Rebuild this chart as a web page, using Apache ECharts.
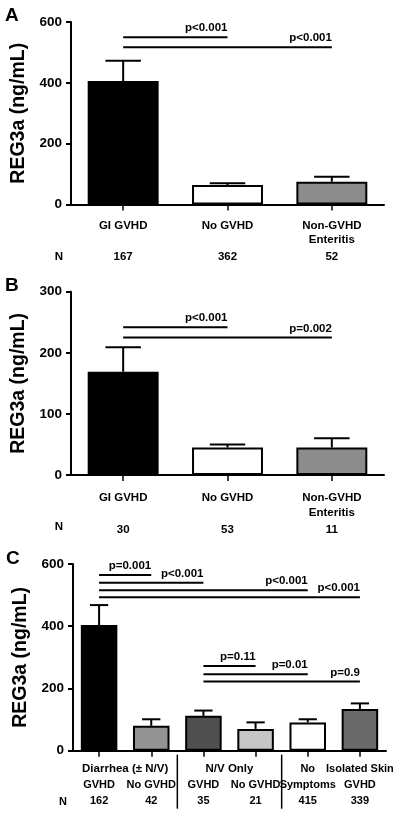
<!DOCTYPE html>
<html><head><meta charset="utf-8">
<script src="https://cdn.jsdelivr.net/npm/echarts@6/dist/echarts.min.js"></script>
<style>html,body{margin:0;padding:0;background:#fff}#c{width:400px;height:816px}</style>
</head><body><div id="c"></div><script>
// ---------- DATA ----------
const catsA = ['GI GVHD', 'No GVHD', 'Non-GVHD\nEnteritis'];
const meanA = [406, 64, 75];
const upperA = [473, 70, 91];
const nA = ['167', '362', '52'];
const sigA = [[0, 1, 550, 'p<0.001'], [0, 2, 517, 'p<0.001']];
const ticksA = [0, 200, 400, 600];

const catsB = ['GI GVHD', 'No GVHD', 'Non-GVHD\nEnteritis'];
const meanB = [169, 45, 45];
const upperB = [209, 50, 60];
const nB = ['30', '53', '11'];
const sigB = [[0, 1, 242, 'p<0.001'], [0, 2, 225, 'p=0.002']];
const ticksB = [0, 100, 200, 300];

const catsC = ['Diarrhea GVHD', 'Diarrhea No GVHD', 'N/V GVHD', 'N/V No GVHD', 'No Symptoms', 'Isolated Skin GVHD'];
const labelTopC = ['', '', '', '', 'No', 'Isolated Skin'];
const labelMidC = ['GVHD', 'No GVHD', 'GVHD', 'No GVHD', 'Symptoms', 'GVHD'];
const meanC = [404, 80, 112, 70, 91, 134];
const upperC = [468, 101, 129, 91, 101, 152];
const nC = ['162', '42', '35', '21', '415', '339'];
const groupsC = [[0, 1, 'Diarrhea (± N/V)'], [2, 3, 'N/V Only']];
const separatorsC = [1, 3];
const sigC = [
  [0, 1, 565, 'p=0.001'], [0, 2, 540, 'p<0.001'], [0, 4, 516, 'p<0.001'], [0, 5, 493, 'p<0.001'],
  [2, 3, 272, 'p=0.11'], [2, 4, 246, 'p=0.01'], [2, 5, 222, 'p=0.9']
];
const ticksC = [0, 200, 400, 600];

// ---------- STYLE ----------
const FONT = '"Liberation Sans", Arial, Helvetica, sans-serif';
const colorsA = ['#000000', '#ffffff', '#8c8c8c'];
const colorsB = ['#000000', '#ffffff', '#8c8c8c'];
const colorsC = ['#000000', '#939393', '#4f4f4f', '#c6c6c6', '#ffffff', '#6a6a6a'];

const chart = echarts.init(document.getElementById('c'), null, {renderer: 'canvas'});

function yAx(gi, ticks, gap) {
  return {
    type: 'value', gridIndex: gi, min: ticks[0], max: ticks[ticks.length - 1],
    interval: ticks[1] - ticks[0],
    name: 'REG3a (ng/mL)', nameLocation: 'middle', nameGap: gap,
    nameTextStyle: {fontSize: 19.5, fontWeight: 'bold', color: '#000', fontFamily: FONT},
    axisLine: {show: true, lineStyle: {color: '#000', width: 2}},
    axisTick: {show: true, length: 5, lineStyle: {color: '#000', width: 2}},
    splitLine: {show: false},
    axisLabel: {fontSize: 13.5, fontWeight: 'bold', color: '#000', fontFamily: FONT, margin: 9}
  };
}
function xAx(gi, cats, fmt, rich, margin) {
  return {
    type: 'category', gridIndex: gi, data: cats,
    axisLine: {show: true, lineStyle: {color: '#000', width: 2}},
    axisTick: {show: true, alignWithLabel: true, length: 6, lineStyle: {color: '#000', width: 1.5}},
    axisLabel: {interval: 0, formatter: fmt, rich: rich, margin: margin, color: '#000'}
  };
}
const richAB = {
  a: {fontSize: 11.5, fontWeight: 'bold', lineHeight: 14.5, fontFamily: FONT, color: '#000'},
  n: {fontSize: 11.5, fontWeight: 'bold', lineHeight: 19.5, fontFamily: FONT, color: '#000'}
};
const richC = {
  a: {fontSize: 11, fontWeight: 'bold', lineHeight: 16, fontFamily: FONT, color: '#000'}
};
function fmtAB(cats, ns) {
  return function (v, i) {
    const parts = cats[i].split('\n');
    return '{a|' + parts[0] + '}\n{a|' + (parts[1] || ' ') + '}\n{n|' + ns[i] + '}';
  };
}
function fmtC(v, i) {
  return '{a|' + (labelTopC[i] || ' ') + '}\n{a|' + labelMidC[i] + '}\n{a|' + nC[i] + '}';
}

function barSeries(gi, means, colors, w) {
  return {
    type: 'bar', xAxisIndex: gi, yAxisIndex: gi, barWidth: w, z: 2,
    data: means.map((m, i) => ({value: m, itemStyle: {color: colors[i], borderColor: '#000', borderWidth: 2}})),
    emphasis: {disabled: true}, animation: false
  };
}
function errSeries(gi, means, uppers, frac) {
  return {
    type: 'custom', xAxisIndex: gi, yAxisIndex: gi, z: 3, clip: false, animation: false,
    data: means.map((m, i) => [i, uppers[i], m]),
    encode: {x: 0, y: 1},
    renderItem: function (params, api) {
      const top = api.coord([api.value(0), api.value(1)]);
      const base = api.coord([api.value(0), api.value(2)]);
      const cap = api.size([1, 0])[0] * frac * 0.5;
      return {type: 'group', children: [
        {type: 'line', shape: {x1: top[0], y1: top[1], x2: base[0], y2: base[1]}, style: {stroke: '#000', lineWidth: 2}},
        {type: 'line', shape: {x1: top[0] - cap / 2, y1: top[1], x2: top[0] + cap / 2, y2: top[1]}, style: {stroke: '#000', lineWidth: 2}}
      ]};
    }
  };
}
function sigSeries(gi, sig) {
  return {
    type: 'custom', xAxisIndex: gi, yAxisIndex: gi, z: 4, clip: false, animation: false,
    data: sig.map(s => [s[0], s[1], s[2]]),
    encode: {x: 0, y: 2},
    renderItem: function (params, api) {
      const a = api.coord([api.value(0), api.value(2)]);
      const b = api.coord([api.value(1), api.value(2)]);
      return {type: 'group', children: [
        {type: 'line', shape: {x1: a[0], y1: a[1], x2: b[0], y2: b[1]}, style: {stroke: '#000', lineWidth: 2}},
        {type: 'text', style: {text: sig[params.dataIndex][3], x: b[0], y: a[1] - 3, align: 'right', verticalAlign: 'bottom',
          font: 'bold 11.5px ' + FONT, fill: '#000'}}
      ]};
    }
  };
}

const option = {
  animation: false,
  backgroundColor: '#fff',
  textStyle: {fontFamily: FONT},
  grid: [
    {left: 71, top: 22, width: 313, height: 182.5},
    {left: 71, top: 291.7, width: 313, height: 183.3},
    {left: 73, top: 564, width: 313, height: 186.7}
  ],
  xAxis: [
    xAx(0, catsA, fmtAB(catsA, nA), richAB, 14),
    xAx(1, catsB, fmtAB(catsB, nB), richAB, 16),
    xAx(2, catsC, fmtC, richC, 10)
  ],
  yAxis: [yAx(0, ticksA, 37), yAx(1, ticksB, 37), yAx(2, ticksC, 39)],
  graphic: [
    {type: 'text', x: 5, y: 16, style: {text: 'A', font: 'bold 19px ' + FONT, fill: '#000', verticalAlign: 'middle'}},
    {type: 'text', x: 5, y: 286, style: {text: 'B', font: 'bold 19px ' + FONT, fill: '#000', verticalAlign: 'middle'}},
    {type: 'text', x: 6, y: 559, style: {text: 'C', font: 'bold 19px ' + FONT, fill: '#000', verticalAlign: 'middle'}},
    {type: 'text', x: 59, y: 257, style: {text: 'N', font: 'bold 11.5px ' + FONT, fill: '#000', align: 'center', verticalAlign: 'middle'}},
    {type: 'text', x: 59, y: 527, style: {text: 'N', font: 'bold 11.5px ' + FONT, fill: '#000', align: 'center', verticalAlign: 'middle'}},
    {type: 'text', x: 63, y: 802, style: {text: 'N', font: 'bold 11px ' + FONT, fill: '#000', align: 'center', verticalAlign: 'middle'}}
  ],
  series: [
    barSeries(0, meanA, colorsA, '68%'), errSeries(0, meanA, upperA, 0.68), sigSeries(0, sigA),
    barSeries(1, meanB, colorsB, '68%'), errSeries(1, meanB, upperB, 0.68), sigSeries(1, sigB),
    barSeries(2, meanC, colorsC, '70%'), errSeries(2, meanC, upperC, 0.70), sigSeries(2, sigC),
    {
      type: 'custom', xAxisIndex: 2, yAxisIndex: 2, z: 4, clip: false, animation: false,
      data: groupsC.map(g => [g[0], g[1], 0]), encode: {x: 0, y: 2},
      renderItem: function (params, api) {
        const a = api.coord([api.value(0), 0]);
        const b = api.coord([api.value(1), 0]);
        return {type: 'text', style: {text: groupsC[params.dataIndex][2], x: (a[0] + b[0]) / 2, y: a[1] + 18.5,
          align: 'center', verticalAlign: 'middle', font: 'bold 11.5px ' + FONT, fill: '#000'}};
      }
    },
    {
      type: 'custom', xAxisIndex: 2, yAxisIndex: 2, z: 4, clip: false, animation: false,
      data: separatorsC.map(s => [s, 0]), encode: {x: 0, y: 1},
      renderItem: function (params, api) {
        const a = api.coord([api.value(0), 0]);
        const b = api.coord([api.value(0) + 1, 0]);
        const x = (a[0] + b[0]) / 2;
        return {type: 'line', shape: {x1: x, y1: a[1] + 4, x2: x, y2: a[1] + 58}, style: {stroke: '#000', lineWidth: 1.5}};
      }
    }
  ]
};
chart.setOption(option);
</script></body></html>
